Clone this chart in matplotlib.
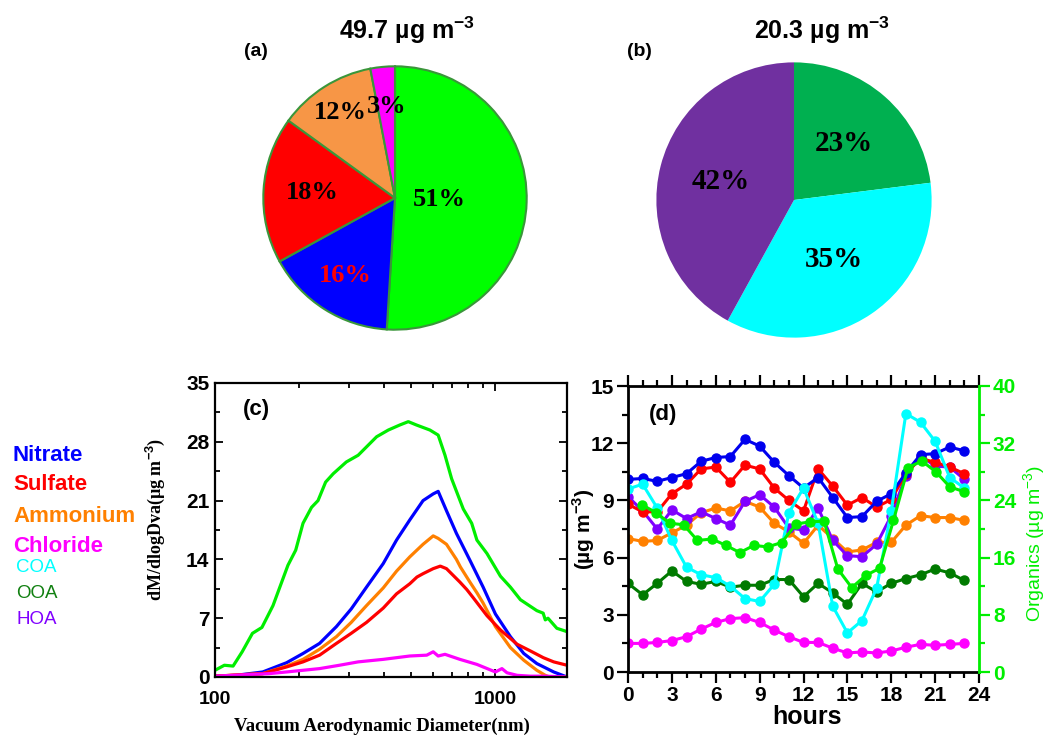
import matplotlib
matplotlib.use("Agg")
import matplotlib.pyplot as plt
import numpy as np
from matplotlib.ticker import FixedLocator, NullFormatter, MultipleLocator

plt.rcParams['font.family'] = ['Liberation Sans', 'DejaVu Sans']
plt.rcParams['mathtext.fontset'] = 'custom'
plt.rcParams['mathtext.rm'] = 'Liberation Sans'
plt.rcParams['mathtext.bf'] = 'Liberation Sans:bold'

# ---- (a) PM1 composition
pie_a_vals = [51, 16, 18, 12, 3]
pie_a_colors = ['#00ff00', '#0000ff', '#ff0000', '#f79646', '#ff00ff']
pie_a_text_colors = ['black', 'red', 'black', 'black', 'black']
pie_a_title = '49.7 µg m'

# ---- (b) organic factors
pie_b_vals = [23, 35, 42]
pie_b_colors = ['#00b050', '#00ffff', '#7030a0']
pie_b_title = '20.3 µg m'

# ---- (c) size distributions (Dva nm, dM/dlogDva)
dva_org = [100, 108, 116, 125, 136, 147, 161, 182, 194, 206, 221, 233, 248, 264, 294, 324,
           377, 415, 456, 489, 523, 584, 625, 661, 698, 768, 823, 859, 933, 1042, 1131,
           1228, 1405, 1480, 1506, 1540, 1656, 1800]
org_c = [0.8, 1.4, 1.3, 3.0, 5.2, 5.9, 8.5, 13.3, 15.1, 18.3, 20.2, 21.0, 23.2, 24.2, 25.6, 26.4,
         28.6, 29.4, 30.0, 30.4, 30.0, 29.4, 28.8, 26.4, 23.6, 20.0, 18.3, 16.3, 14.7, 12.0, 10.7,
         9.2, 7.9, 7.6, 6.8, 7.0, 5.8, 5.4]

dva_nit = [100, 119, 148, 180, 206, 236, 271, 306, 347, 398, 444, 495, 552, 600, 625, 669,
           726, 811, 904, 1000, 1131, 1262, 1405, 1614, 1800]
nit_c = [0.1, 0.2, 0.6, 1.7, 2.8, 4.0, 6.0, 8.1, 10.7, 13.5, 16.3, 18.7, 21.0, 21.8, 22.1, 19.8,
         17.1, 13.9, 10.7, 7.5, 4.8, 2.8, 1.6, 0.6, 0.0]

dva_amm = [100, 148, 180, 206, 236, 271, 306, 347, 398, 444, 495, 552, 600, 625, 669, 726,
           750, 811, 860, 904, 1000, 1131, 1262, 1405, 1506, 1560, 1800]
amm_c = [0.1, 0.4, 1.3, 2.1, 3.3, 4.8, 6.5, 8.5, 10.6, 12.6, 14.3, 15.8, 16.8, 16.5, 15.8, 14.0,
         13.1, 11.3, 10.0, 8.8, 6.0, 3.5, 2.0, 0.8, 0.2, 0.0, 0.0]

dva_sul = [100, 148, 180, 206, 236, 271, 306, 347, 398, 444, 495, 525, 552, 600, 636, 669,
           747, 791, 835, 933, 1042, 1195, 1333, 1482, 1614, 1800]
sul_c = [0.1, 0.4, 1.2, 1.8, 2.6, 4.0, 5.2, 6.5, 8.2, 9.9, 11.1, 11.9, 12.3, 12.9, 13.2, 12.9,
         11.3, 10.4, 9.4, 7.3, 5.6, 3.9, 3.1, 2.3, 1.8, 1.4]

dva_chl = [100, 156, 180, 236, 278, 324, 398, 495, 569, 600, 625, 661, 747, 859, 1000, 1055,
           1100, 1195, 1333, 1500, 1800]
chl_c = [0.1, 0.4, 0.6, 1.0, 1.4, 1.8, 2.1, 2.5, 2.6, 3.0, 2.5, 2.7, 2.1, 1.5, 0.6, 1.0,
         0.5, 0.2, 0.1, 0.1, 0.0]

# ---- (d) diurnal cycles
hours = list(range(24))
nitrate_d = [10.1, 10.15, 10.0, 10.2, 10.4, 11.05, 11.25, 11.3, 12.2, 11.85, 11.0, 10.3,
             9.65, 10.2, 9.15, 8.1, 8.15, 8.95, 9.35, 10.45, 11.4, 11.45, 11.8, 11.6]
sulfate_d = [8.8, 8.4, 8.4, 9.35, 9.85, 10.65, 10.75, 9.95, 10.85, 10.65, 9.65, 9.0,
             8.45, 10.65, 9.75, 8.75, 9.15, 8.65, 9.05, 10.4, 11.2, 11.0, 10.75, 10.4]
ammonium_d = [7.0, 6.85, 6.9, 7.3, 7.7, 8.35, 8.6, 8.45, 8.95, 8.65, 7.8, 7.35,
              6.75, 7.7, 7.0, 6.3, 6.4, 6.8, 6.8, 7.7, 8.2, 8.1, 8.1, 7.95]
chloride_d = [1.5, 1.5, 1.55, 1.65, 1.85, 2.25, 2.6, 2.8, 2.85, 2.6, 2.2, 1.85,
              1.55, 1.55, 1.25, 1.0, 1.05, 1.0, 1.1, 1.3, 1.45, 1.4, 1.45, 1.5]
coa_d = [9.6, 9.85, 8.6, 6.9, 5.5, 5.1, 4.95, 4.5, 3.85, 3.7, 4.6, 8.35,
         9.65, 7.8, 3.45, 2.05, 2.7, 4.4, 8.45, 13.55, 13.1, 12.1, 10.2, 9.65]
ooa_d = [4.65, 4.05, 4.65, 5.3, 4.75, 4.6, 4.75, 4.45, 4.55, 4.55, 4.85, 4.85,
         3.95, 4.65, 4.15, 3.55, 4.65, 4.2, 4.65, 4.9, 5.1, 5.4, 5.2, 4.8]
hoa_d = [9.2, 8.45, 7.5, 8.5, 8.05, 8.4, 8.05, 7.7, 8.95, 9.3, 8.65, 7.55,
         7.45, 8.6, 6.9, 6.1, 6.05, 6.7, 8.2, 10.3, 11.35, 10.8, 10.75, 10.1]
org_hours = [0.95, 1.9, 2.85, 3.8, 4.75, 5.75, 6.7, 7.65, 8.6, 9.55, 10.5, 11.5,
             12.45, 13.4, 14.35, 15.3, 16.25, 17.2, 18.15, 19.15, 20.1, 21.05, 22.0, 23.0]
organics_d = [23.4, 22.3, 20.8, 20.6, 18.4, 18.6, 17.7, 16.7, 17.7, 17.5, 18.1, 20.7,
              21.0, 21.1, 14.4, 11.8, 13.5, 14.5, 21.2, 28.6, 29.5, 28.0, 25.9, 25.2]

legend_names = ['Nitrate', 'Sulfate', 'Ammonium', 'Chloride', 'COA', 'OOA', 'HOA']
legend_colors = ['#0000ff', '#ff0000', '#ff8000', '#ff00ff', '#00ffff', '#118011', '#8000ff']

W, H = 1048, 740
fig = plt.figure(figsize=(W / 100, H / 100), dpi=100)


def px_axes(left, top, right, bottom):
    return fig.add_axes([left / W, 1 - bottom / H, (right - left) / W, (bottom - top) / H])


serif = dict(family='Liberation Serif', weight='bold')


def draw_pie(ax, vals, colors, radii, tcolors, fs, edge):
    wp = dict(edgecolor=edge, linewidth=1.5) if edge else dict(linewidth=0)
    wedges, _ = ax.pie(vals, colors=colors, startangle=90, counterclock=False,
                       wedgeprops=wp)
    for w, v, r, c in zip(wedges, vals, radii, tcolors):
        ang = np.deg2rad((w.theta1 + w.theta2) / 2)
        ax.text(r * np.cos(ang), r * np.sin(ang), f"{v}%", ha='center', va='center',
                color=c, fontsize=fs, **serif)
    ax.set_xlim(-1.01, 1.01)
    ax.set_ylim(-1.01, 1.01)
    ax.set_aspect('equal')


ax_a = px_axes(262, 65, 528, 331)
draw_pie(ax_a, pie_a_vals, pie_a_colors, [0.34, 0.70, 0.63, 0.77, 0.70], pie_a_text_colors, 19, '#3a963a')
ax_b = px_axes(655, 61, 933, 339)
draw_pie(ax_b, pie_b_vals, pie_b_colors, [0.55, 0.52, 0.55], ['black'] * 3, 21, None)

fig.text(407 / W, 1 - 30 / H, pie_a_title + r'$^{\mathbf{-3}}$', ha='center', va='center',
         fontsize=18, weight='bold')
fig.text(822 / W, 1 - 30 / H, pie_b_title + r'$^{\mathbf{-3}}$', ha='center', va='center',
         fontsize=18, weight='bold')
fig.text(256 / W, 1 - 52 / H, '(a)', ha='center', va='center', fontsize=14, weight='bold')
fig.text(639 / W, 1 - 52 / H, '(b)', ha='center', va='center', fontsize=14, weight='bold')

# ---- (c)
ax_c = px_axes(215, 383, 567, 677)
ax_c.plot(dva_org, org_c, color='#00ee00', lw=2.3)
ax_c.plot(dva_nit, nit_c, color='#0000ff', lw=2.3)
ax_c.plot(dva_amm, amm_c, color='#ff8000', lw=2.3)
ax_c.plot(dva_sul, sul_c, color='#ff0000', lw=2.3)
ax_c.plot(dva_chl, chl_c, color='#ff00ff', lw=2.3)
ax_c.set_xscale('log')
ax_c.set_xlim(100, 1800)
ax_c.set_ylim(0, 35)
ax_c.xaxis.set_major_locator(FixedLocator([100, 1000]))
ax_c.set_xticklabels(['100', '1000'])
ax_c.xaxis.set_minor_formatter(NullFormatter())
ax_c.yaxis.set_major_locator(MultipleLocator(7))
ax_c.yaxis.set_minor_locator(MultipleLocator(3.5))
ax_c.tick_params(which='both', top=True, right=True, width=1.3)
ax_c.tick_params(axis='x', which='both', direction='in', labelsize=14, pad=10)
ax_c.tick_params(axis='y', which='both', direction='in', labelsize=15, pad=4)
ax_c.tick_params(which='major', length=6)
ax_c.tick_params(which='minor', length=3.5)
for lab in ax_c.get_xticklabels() + ax_c.get_yticklabels():
    lab.set_fontweight('bold')
for s in ax_c.spines.values():
    s.set_linewidth(1.6)
ax_c.set_ylabel(r'dM/dlogDva(µg m$^{\mathbf{-3}}$)', fontsize=13, **serif)
ax_c.yaxis.set_label_coords(-0.135, 0.535)
ax_c.set_xlabel('Vacuum Aerodynamic Diameter(nm)', fontsize=13.5, **serif)
ax_c.xaxis.set_label_coords(0.474, -0.14)
ax_c.text(0.08, 0.91, '(c)', transform=ax_c.transAxes, fontsize=16, weight='bold', va='center')

# legend text on the left
leg_y = [455, 485, 516, 547, 568, 594, 620]
for name, col, y in zip(legend_names, legend_colors, leg_y):
    bold = name not in ('COA', 'OOA', 'HOA')
    fig.text((13 if bold else 16) / W, 1 - y / H, name, color=col, va='center', ha='left',
             fontsize=16 if bold else 13.5, weight='bold' if bold else 'normal')

# ---- (d)
ax_d = px_axes(628, 386, 979, 672)
mk = dict(marker='o', ms=6.5, lw=2.2)
ax_d.plot(hours, ooa_d, color='#007a00', **mk)
ax_d.plot(hours, chloride_d, color='#ff00ff', **mk)
ax_d.plot(hours, ammonium_d, color='#ff8000', **mk)
ax_d.plot(hours, hoa_d, color='#8000ff', **mk)
ax_d.plot(hours, sulfate_d, color='#ff0000', **mk)
ax_d.plot(hours, nitrate_d, color='#0000ee', **mk)
ax_d.plot(hours, coa_d, color='#00ffff', **mk)
ax_d.set_xlim(0, 24)
ax_d.set_ylim(0, 15)
ax_d.xaxis.set_major_locator(MultipleLocator(3))
ax_d.xaxis.set_minor_locator(MultipleLocator(1))
ax_d.yaxis.set_major_locator(MultipleLocator(3))
ax_d.yaxis.set_minor_locator(MultipleLocator(1.5))
ax_d.tick_params(which='both', direction='out', width=1.6, labelsize=15, pad=2)
ax_d.tick_params(which='major', length=8)
ax_d.tick_params(which='minor', length=4)
ax_d.tick_params(axis='x', which='both', top=True)
for lab in ax_d.get_xticklabels() + ax_d.get_yticklabels():
    lab.set_fontweight('bold')
ax_d.spines['right'].set_visible(False)
for s in ('left', 'bottom', 'top'):
    ax_d.spines[s].set_linewidth(2)
ax_d.set_xlabel('hours', fontsize=18, weight='bold')
ax_d.xaxis.set_label_coords(0.51, -0.115)
ax_d.set_ylabel(r'(µg m$^{\mathbf{-3}}$)', fontsize=15, weight='bold')
ax_d.yaxis.set_label_coords(-0.088, 0.5)
ax_d.text(0.06, 0.9, '(d)', transform=ax_d.transAxes, fontsize=16, weight='bold', va='center')

ax_o = ax_d.twinx()
ax_o.plot(org_hours, organics_d, color='#00ee00', **mk)
ax_o.set_ylim(0, 40)
ax_o.yaxis.set_major_locator(MultipleLocator(8))
ax_o.yaxis.set_minor_locator(MultipleLocator(4))
ax_o.tick_params(axis='y', which='both', colors='#00ee00', width=1.6, labelsize=15, pad=2)
ax_o.tick_params(which='major', length=8)
ax_o.tick_params(which='minor', length=4)
for lab in ax_o.get_yticklabels():
    lab.set_fontweight('bold')
for s in ax_o.spines.values():
    s.set_visible(False)
ax_o.spines['right'].set_visible(True)
ax_o.spines['right'].set_color('#00ee00')
ax_o.spines['right'].set_linewidth(2)
ax_o.set_ylabel(r'Organics (µg m$^{-3}$)', fontsize=14, color='#00ee00')
ax_o.yaxis.set_label_coords(1.12, 0.45)

fig.savefig('out.png', dpi=100)
